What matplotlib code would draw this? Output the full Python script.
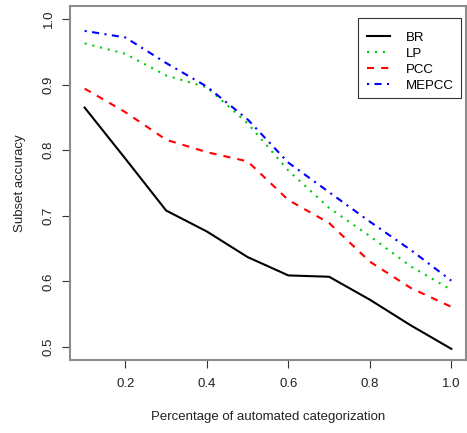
import numpy as np
import matplotlib
matplotlib.use('Agg')
import matplotlib.pyplot as plt
from matplotlib.patches import Rectangle

plt.rcParams['font.family'] = ['Liberation Sans', 'DejaVu Sans']

# Data
pct = [0.1, 0.2, 0.3, 0.4, 0.5, 0.6, 0.65, 0.7, 0.8, 0.9, 1.0]
br = [0.865, 0.787, 0.708, 0.676, 0.637, 0.609, 0.608, 0.607, 0.572, 0.533, 0.497]

pct10 = [0.1, 0.2, 0.3, 0.4, 0.5, 0.6, 0.7, 0.8, 0.9, 1.0]
lp = [0.963, 0.947, 0.914, 0.896, 0.841, 0.769, 0.712, 0.669, 0.623, 0.587]
pcc = [0.894, 0.858, 0.816, 0.797, 0.783, 0.724, 0.689, 0.630, 0.590, 0.561]
mepcc = [0.982, 0.972, 0.933, 0.897, 0.847, 0.781, 0.736, 0.691, 0.648, 0.601]

x_ticks = [0.2, 0.4, 0.6, 0.8, 1.0]
y_ticks = [0.5, 0.6, 0.7, 0.8, 0.9, 1.0]

W, H = 467, 433
fig = plt.figure(figsize=(W / 100, H / 100), dpi=100)
ax = fig.add_axes([70 / W, 73 / H, 396 / W, 354 / H])

lw = 1.5
ax.plot(pct, br, color='black', lw=lw, label='BR')
ax.plot(pct10, lp, color='#00cc00', lw=lw, dashes=(1, 2.8), label='LP')
ax.plot(pct10, pcc, color='red', lw=lw, dashes=(3.4, 3.4), label='PCC')
ax.plot(pct10, mepcc, color='blue', lw=lw, dashes=(1, 2.6, 3.4, 2.6), label='MEPCC')

ax.set_xlim(0.064, 1.036)
ax.set_ylim(0.48, 1.02)
ax.set_xticks(x_ticks)
ax.set_xticklabels(['0.2', '0.4', '0.6', '0.8', '1.0'])
ax.set_yticks(y_ticks)
ax.set_yticklabels(['0.5', '0.6', '0.7', '0.8', '0.9', '1.0'], rotation=90, va='center')

for s in ax.spines.values():
    s.set_color('#8c8c8c')
    s.set_linewidth(1.5)

ax.tick_params(axis='both', length=5.8, width=0.8, color='#333333',
               labelsize=9.5, labelcolor='#222222')
ax.tick_params(axis='x', pad=7)
ax.tick_params(axis='y', pad=5)

ax.set_xlabel('Percentage of automated categorization', fontsize=9.5,
              color='#222222', labelpad=15)
ax.set_ylabel('Subset accuracy', fontsize=9.5, color='#222222', labelpad=12)

# legend box drawn separately (R style: more room above than below)
fig.patches.append(Rectangle((358 / W, 1 - 98 / H), 103 / W, 80 / H,
                             transform=fig.transFigure, fill=False,
                             edgecolor='#333333', lw=0.8, zorder=5))
ax.legend(loc='upper left', bbox_to_anchor=(364 / W, 1 - 29 / H),
          bbox_transform=fig.transFigure, fontsize=9.5, frameon=False,
          handlelength=1.8, handletextpad=1.2, labelspacing=0.28,
          borderpad=0.2, borderaxespad=0)

fig.savefig('out.png', dpi=100)
